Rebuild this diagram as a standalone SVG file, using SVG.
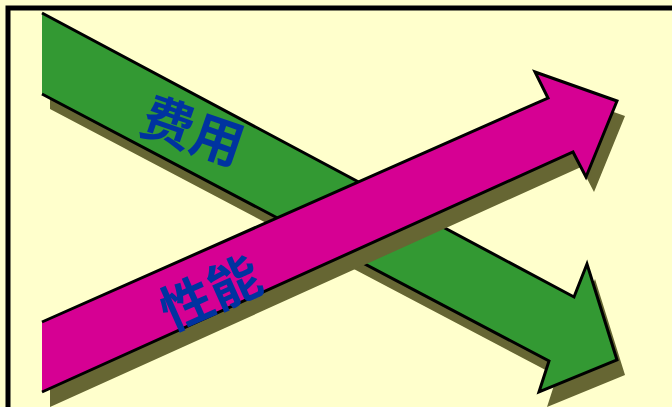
<svg xmlns="http://www.w3.org/2000/svg" width="672" height="407" viewBox="0 0 672 407">
<style>
.shadow{fill:#666633;stroke:none}
.arrow{stroke:#000;stroke-width:3;stroke-linejoin:miter}
.label{font-family:"Noto Sans CJK SC","Noto Sans CJK JP",sans-serif;font-weight:bold;font-size:52px;fill:#0033A0;text-anchor:middle;dominant-baseline:central}
</style>
<rect x="0" y="0" width="672" height="407" fill="#FFFFCC"/>
<rect x="8" y="8" width="700" height="440" fill="#FFFFCC" stroke="#000" stroke-width="5"/>
<g id="cost">
<path class="shadow" transform="translate(8,15)" d="M42,13 L574,297 L587,264 L617,360 L539,392 L549,361 L42,94 Z"/>
<path class="arrow" fill="#339933" d="M42,13 L574,297 L587,264 L617,360 L539,392 L549,361 L42,94"/>
<text class="label" transform="translate(194,128) rotate(19)">费用</text>
</g>
<g id="performance">
<path class="shadow" transform="translate(8,15)" d="M42,322 L548,98 L535,72 L617,101 L586,177 L573,152 L42,392 Z"/>
<path class="arrow" fill="#D60093" d="M42,322 L548,98 L535,72 L617,101 L586,177 L573,152 L42,392"/>
<text class="label" transform="translate(209,290) rotate(-24)">性能</text>
</g>
<g id="connectors"/>
</svg>
